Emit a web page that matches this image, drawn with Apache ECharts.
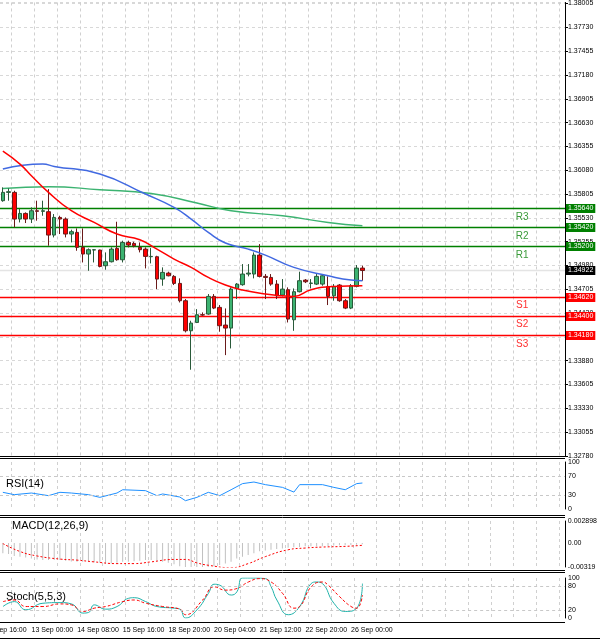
<!DOCTYPE html>
<html>
<head>
<meta charset="utf-8">
<script src="https://cdn.jsdelivr.net/npm/echarts@6/dist/echarts.min.js"></script>
<style>
  html, body { margin: 0; padding: 0; background: #fff; }
  #chart { width: 600px; height: 640px; }
</style>
</head>
<body>
<div id="chart"></div>
<script>
// 4H candles
var opens = [1.35728,1.35824,1.35824,1.35516,1.35581,1.35516,1.35612,1.35605,1.35601,1.35331,
  1.35535,1.35516,1.35343,1.35362,1.35189,1.35112,1.35158,1.35158,1.34977,1.35023,
  1.35177,1.35046,1.35246,1.35235,1.35189,1.35169,1.35081,1.35081,1.34823,1.34892,
  1.34854,1.34773,1.34573,1.34226,1.34322,1.34411,1.34419,1.34623,1.34496,1.34292,
  1.34257,1.34715,1.34758,1.34881,1.34881,1.35100,1.34854,1.34842,1.34765,1.34638,
  1.34700,1.34353,1.34677,1.34811,1.34773,1.34765,1.34765,1.34738,1.34630,1.34754,
  1.34573,1.34488,1.34738,1.34950];
var closes = [1.35824,1.35832,1.35516,1.35581,1.35516,1.35612,1.35605,1.35612,1.35331,1.35535,
  1.35516,1.35343,1.35370,1.35189,1.35112,1.35162,1.35162,1.34969,1.35023,1.35169,
  1.35046,1.35246,1.35216,1.35208,1.35162,1.35085,1.35085,1.34823,1.34900,1.34861,
  1.34773,1.34573,1.34226,1.34315,1.34411,1.34408,1.34623,1.34488,1.34284,1.34257,
  1.34707,1.34765,1.34881,1.34892,1.35100,1.34854,1.34842,1.34765,1.34630,1.34707,
  1.34361,1.34677,1.34804,1.34792,1.34777,1.34854,1.34861,1.34623,1.34738,1.34573,
  1.34488,1.34746,1.34950,1.34922];
var lows = [1.35716,1.35728,1.35420,1.35477,1.35470,1.35470,1.35497,1.35554,1.35208,1.35304,
  1.35343,1.35304,1.35246,1.35150,1.35015,1.34919,1.35015,1.34958,1.34931,1.35015,
  1.35035,1.35015,1.35189,1.35189,1.35131,1.34946,1.35004,1.34707,1.34746,1.34854,
  1.34754,1.34553,1.34207,1.33776,1.34315,1.34399,1.34411,1.34476,1.34215,1.33945,
  1.34022,1.34592,1.34746,1.34854,1.34831,1.34842,1.34592,1.34746,1.34592,1.34623,
  1.34322,1.34226,1.34669,1.34777,1.34715,1.34754,1.34746,1.34523,1.34573,1.34561,
  1.34476,1.34476,1.34727,1.34804];
var highs = [1.35882,1.35870,1.35843,1.35631,1.35593,1.35651,1.35728,1.35728,1.35862,1.35574,
  1.35554,1.35535,1.35393,1.35408,1.35408,1.35177,1.35170,1.35162,1.35131,1.35189,
  1.35485,1.35266,1.35266,1.35254,1.35246,1.35189,1.35181,1.35092,1.34958,1.34908,
  1.34869,1.34831,1.34592,1.34342,1.34476,1.34438,1.34650,1.34650,1.34523,1.34484,
  1.34727,1.34777,1.34996,1.34996,1.35131,1.35227,1.34881,1.34881,1.34811,1.34823,
  1.34727,1.34715,1.34908,1.34823,1.34823,1.34881,1.34881,1.34854,1.34765,1.34765,
  1.34592,1.34765,1.34985,1.34977];

// moving averages, [candle index, value]
var maFast = [[0,1.36300],[3,1.36151],[5,1.36016],[8,1.35824],[12,1.35612],[16,1.35477],[20,1.35343],
  [24,1.35277],[27,1.35169],[30,1.35054],[33,1.34958],[36,1.34842],[39,1.34754],[42,1.34696],
  [46,1.34650],[49,1.34630],[51,1.34623],[54,1.34700],[58,1.34738],[63,1.34746]];
var maMid = [[0,1.36094],[7,1.36151],[9,1.36124],[17,1.36036],[25,1.35805],[30,1.35651],[33,1.35516],
  [36,1.35362],[39,1.35239],[43,1.35169],[46,1.35100],[51,1.34958],[57,1.34861],[61,1.34811],[63,1.34804]];
var maSlow = [[0,1.35870],[8,1.35889],[17,1.35855],[26,1.35812],[34,1.35701],[40,1.35612],
  [49,1.35554],[57,1.35477],[63,1.35439]];

var resistances = [["R1",1.35200],["R2",1.35420],["R3",1.35640]];
var supports = [["S1",1.34620],["S2",1.34400],["S3",1.34180]];
var lastPrice = 1.34922;

var rsi = [[0,35.5],[2,30.5],[5,34],[8,28.4],[10,35.5],[12,34],[15,30.5],[17,24.8],[20,34],[21,41],
  [25,39],[27,28.4],[28,32],[31,25.5],[32,17.7],[34,24.8],[36,35.5],[38,28.4],[40,41],[42,54],
  [44,57.4],[46,51.8],[49,46],[51,36],[52,51.8],[56,51.8],[58,46],[60,41],[62,54],[63,55.3]];

var macdHist = [-0.00137,-0.00146,-0.00173,-0.00182,-0.00192,-0.00205,-0.00219,-0.00228,-0.00228,-0.00228,
  -0.00228,-0.00237,-0.00246,-0.00251,-0.00251,-0.00251,-0.00255,-0.00264,-0.00274,-0.00274,
  -0.00264,-0.00251,-0.00251,-0.00242,-0.00237,-0.00228,-0.00228,-0.00237,-0.00251,-0.00264,
  -0.00283,-0.00310,-0.00328,-0.00342,-0.00337,-0.00328,-0.00319,-0.00310,-0.00292,-0.00274,
  -0.00251,-0.00205,-0.00182,-0.00160,-0.00137,-0.00109,-0.00100,-0.00091,-0.00082,-0.00073,
  -0.00064,-0.00059,-0.00055,-0.00046,-0.00046,-0.00046,-0.00046,-0.00041,-0.00036,-0.00032,
  -0.00027,-0.00027,-0.00023,-0.00018];
var macdSignal = [[0,-0.00009],[3,-0.00114],[6,-0.00173],[10,-0.00214],[13,-0.00228],[16,-0.00251],
  [20,-0.00274],[23,-0.00274],[26,-0.00251],[30,-0.00219],[32,-0.00219],[34,-0.00264],[36,-0.00296],
  [40,-0.00328],[43,-0.00274],[46,-0.00182],[50,-0.00091],[53,-0.00068],[56,-0.00055],[60,-0.00046],[63,-0.00032]];

var stochMain = [[0,28.7],[2,41],[4,20.5],[7,36.9],[10,38.5],[12,35.2],[14,12.3],[15,13.9],[16,32.8],
  [18,22.1],[20,28.7],[22,49.2],[23,50.8],[25,41],[27,28.7],[30,24.6],[31,22.1],[32,0],[34,20.5],
  [36,61.5],[37,84.4],[38,82],[40,57.4],[41,65.6],[42,100],[44,100],[46,98.4],[47,77.9],[48,45],
  [50,8.2],[52,28.7],[54,86],[55,90],[56,86],[58,36.9],[60,16.4],[62,24.6],[63,86]];
var stochSignal = [[0,41],[2,45],[4,28.7],[7,28.7],[10,35.2],[12,32.8],[14,16.4],[16,24.6],[18,28.7],
  [21,41],[23,45],[25,36.9],[28,28.7],[31,22.1],[32,8.2],[35,45],[37,77.9],[39,69.7],[41,73.8],
  [43,90],[45,98.4],[47,90],[49,61.5],[51,24.6],[52,28.7],[54,77.9],[56,90],[57,82],[59,53.3],
  [61,28.7],[62,24.6],[63,57.4]];

var tickLabels = {5:"13 Sep 00:00",13:"14 Sep 08:00",21:"15 Sep 16:00",29:"18 Sep 20:00",
  37:"20 Sep 04:00",45:"21 Sep 12:00",53:"22 Sep 20:00",61:"26 Sep 00:00"};
var firstLabel = "12 Sep 16:00";
var slots = 99;

var cats = [];
for (var i = 0; i < slots; i++) cats.push(String(i));
var candles = [];
for (var i = 0; i < opens.length; i++) candles.push([opens[i], closes[i], lows[i], highs[i]]);

var FONT = "Liberation Sans";
var dashGrid = { show: true, interval: function (i) { return i % 4 === 2; },
  lineStyle: { color: "#d0d0d0", type: [3, 3], width: 1 } };

function xAx(gi, withLabels) {
  return {
    type: "category", gridIndex: gi, data: cats, boundaryGap: true,
    axisLine: { show: false }, axisTick: { show: false },
    axisLabel: withLabels ? {
      show: true, interval: 0, align: "left", fontSize: 7, fontFamily: FONT, color: "#000", margin: 9,
      formatter: function (v, i) { return tickLabels[i] || ""; }
    } : { show: false },
    splitLine: dashGrid
  };
}
function levelLine(v) {
  return { yAxis: v, lineStyle: { color: "#c8c8c8", type: [3, 3], width: 1 }, label: { show: false } };
}
var axLbl = { fontSize: 7, fontFamily: FONT, color: "#000", margin: 3 };

var chart = echarts.init(document.getElementById("chart"));
var option = {
  animation: false,
  backgroundColor: "#fff",
  grid: [
    { left: 0, right: 35, top: 0, height: 456 },
    { left: 0, right: 35, top: 462, height: 47 },
    { left: 0, right: 35, top: 521, height: 46 },
    { left: 0, right: 35, top: 578, height: 40 }
  ],
  xAxis: [xAx(0, false), xAx(1, false), xAx(2, false), xAx(3, true)],
  yAxis: [
    { type: "value", gridIndex: 0, position: "right", min: 1.3278, max: 1.38017, interval: 0.00275,
      axisLine: { show: true, lineStyle: { color: "#000" } }, axisTick: { show: true, length: 3, lineStyle: { color: "#000" } },
      axisLabel: Object.assign({ formatter: function (v) { return v.toFixed(5); } }, axLbl),
      splitLine: { show: true, lineStyle: { color: "#d8d8d8", type: [3, 3] } } },
    { type: "value", gridIndex: 1, position: "right", min: 0, max: 100, interval: 10,
      axisLine: { show: true, lineStyle: { color: "#000" } }, axisTick: { show: false },
      axisLabel: Object.assign({ formatter: function (v) { return [0, 30, 70, 100].indexOf(v) >= 0 ? v : ""; } }, axLbl),
      splitLine: { show: false } },
    { type: "value", gridIndex: 2, position: "right", min: -0.00319, max: 0.002898, interval: 0.00319,
      axisLine: { show: true, lineStyle: { color: "#000" } }, axisTick: { show: false },
      axisLabel: Object.assign({ showMaxLabel: true, formatter: function (v) {
        if (Math.abs(v) < 1e-9) return "0.00";
        return v > 0 ? "0.002898" : "-0.00319"; } }, axLbl),
      splitLine: { show: false } },
    { type: "value", gridIndex: 3, position: "right", min: 0, max: 100, interval: 20,
      axisLine: { show: true, lineStyle: { color: "#000" } }, axisTick: { show: false },
      axisLabel: Object.assign({ formatter: function (v) { return [0, 20, 80, 100].indexOf(v) >= 0 ? v : ""; } }, axLbl),
      splitLine: { show: false } }
  ],
  series: [
    { type: "line", xAxisIndex: 0, yAxisIndex: 0, data: maSlow, smooth: true, showSymbol: false,
      lineStyle: { color: "#3cb371", width: 1.5 }, z: 3 },
    { type: "candlestick", xAxisIndex: 0, yAxisIndex: 0, data: candles, barWidth: 4, z: 4,
      itemStyle: { color: "#3cb371", color0: "#ff0000", borderColor: "#2a5a3a", borderColor0: "#6a1a1a", borderWidth: 1 } },
    { type: "line", xAxisIndex: 0, yAxisIndex: 0, data: maMid, smooth: true, showSymbol: false,
      lineStyle: { color: "#4169e1", width: 1.5 }, z: 5 },
    { type: "line", xAxisIndex: 0, yAxisIndex: 0, data: maFast, smooth: true, showSymbol: false,
      lineStyle: { color: "#ff0000", width: 1.5 }, z: 5 },
    { type: "line", xAxisIndex: 1, yAxisIndex: 1, data: rsi, showSymbol: false,
      lineStyle: { color: "#1e90ff", width: 1 },
      markLine: { symbol: "none", silent: true, data: [levelLine(70), levelLine(30)] } },
    { type: "bar", xAxisIndex: 2, yAxisIndex: 2, data: macdHist, barWidth: 1,
      itemStyle: { color: "#c0c0c0" } },
    { type: "line", xAxisIndex: 2, yAxisIndex: 2, data: macdSignal, smooth: true, showSymbol: false,
      lineStyle: { color: "#ff0000", width: 1, type: [2, 2] } },
    { type: "line", xAxisIndex: 3, yAxisIndex: 3, data: stochMain, smooth: true, showSymbol: false,
      lineStyle: { color: "#20b2aa", width: 1 },
      markLine: { symbol: "none", silent: true, data: [levelLine(80), levelLine(20)] } },
    { type: "line", xAxisIndex: 3, yAxisIndex: 3, data: stochSignal, smooth: true, showSymbol: false,
      lineStyle: { color: "#ff0000", width: 1, type: [3, 2] } }
  ]
};
chart.setOption(option);

// level lines, price tags, panel separators, titles, R/S tags
var g = [];
function yOf(v) { return chart.convertToPixel({ xAxisIndex: 0, yAxisIndex: 0 }, [0, v])[1]; }
function hLine(v, col, bg) {
  var y = Math.round(yOf(v)) + 0.5;
  g.push({ type: "line", z: 2, shape: { x1: 0, y1: y, x2: 565, y2: y }, style: { stroke: col, lineWidth: 1.5 } });
  g.push({ type: "text", z: 20, x: 566, y: y, style: { text: v.toFixed(5), font: "7px " + FONT, fill: "#fff",
    backgroundColor: bg, padding: [1, 2], textVerticalAlign: "middle" } });
}
resistances.forEach(function (r) { hLine(r[1], "#008000", "#008000"); });
supports.forEach(function (s) { hLine(s[1], "#ff0000", "#ff0000"); });
hLine(lastPrice, "#e4e4e4", "#000");

[456, 458, 515, 517, 570, 572, 622].forEach(function (y) {
  g.push({ type: "line", shape: { x1: 0, y1: y + 0.5, x2: 565, y2: y + 0.5 }, style: { stroke: "#000", lineWidth: 1 } });
});
g.push({ type: "line", shape: { x1: 0, y1: 638.5, x2: 600, y2: 638.5 }, style: { stroke: "#000", lineWidth: 1 } });
[["RSI(14)", 6, 484], ["MACD(12,26,9)", 12, 526], ["Stoch(5,5,3)", 6, 597]].forEach(function (t) {
  g.push({ type: "text", x: t[1], y: t[2], style: { text: t[0], font: "11px " + FONT, fill: "#000", textVerticalAlign: "middle" } });
});
g.push({ type: "text", x: -15, y: 630, style: { text: firstLabel, font: "7px " + FONT, fill: "#000", textVerticalAlign: "middle" } });
resistances.concat(supports).forEach(function (lv) {
  var p = chart.convertToPixel({ xAxisIndex: 0, yAxisIndex: 0 }, [91, lv[1]]);
  g.push({ type: "text", x: p[0], y: p[1] + 9, style: { text: lv[0], font: "10px " + FONT,
    fill: lv[0][0] === "R" ? "#3a9a3a" : "#ff3030", textAlign: "center", textVerticalAlign: "middle" } });
});
chart.setOption({ graphic: g });
</script>
</body>
</html>
